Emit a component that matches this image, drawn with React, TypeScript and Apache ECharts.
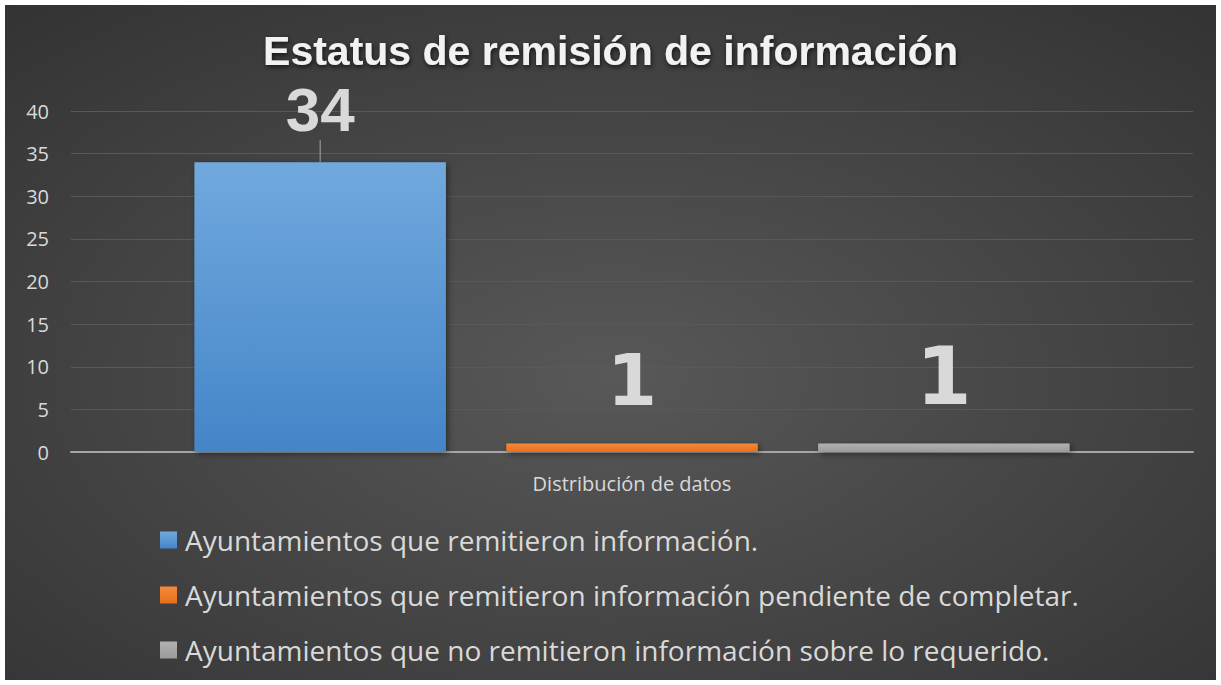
import React, { useEffect, useRef } from "react";
import * as echarts from "echarts";

const categories = ["Distribución de datos"];
const seriesNames = [
  "Ayuntamientos que remitieron información.",
  "Ayuntamientos que remitieron información pendiente de completar.",
  "Ayuntamientos que no remitieron información sobre lo requerido.",
];
const values = [34, 1, 1];
const yTicks = { min: 0, max: 40, interval: 5 };

const colorsTop = ["#71a9de", "#f48a3b", "#b1b1b1"];
const colorsBottom = ["#4485c8", "#e56f1c", "#9b9b9b"];
const labelFonts = ["Liberation Sans", "DejaVu Sans", "DejaVu Sans"];
const labelSizes = [62, 72, 80];
const labelDistances = [4, 27, 27];

export default function App() {
  const ref = useRef<HTMLDivElement>(null);
  useEffect(() => {
    document.body.style.margin = "0";
    const chart = echarts.init(ref.current!, null, { renderer: "svg" });
    const font = "Open Sans";
    const series = seriesNames.map((name, i) => ({
      name,
      type: "bar",
      data: [values[i]],
      barGap: "24%",
      barCategoryGap: "22%",
      itemStyle: {
        color: {
          type: "linear",
          x: 0,
          y: 0,
          x2: 0,
          y2: 1,
          colorStops: [
            { offset: 0, color: colorsTop[i] },
            { offset: 1, color: colorsBottom[i] },
          ],
        },
        shadowColor: "rgba(0,0,0,0.45)",
        shadowBlur: 6,
        shadowOffsetX: 2,
        shadowOffsetY: 2,
      },
      label: {
        show: true,
        position: "top",
        distance: labelDistances[i],
        fontFamily: labelFonts[i],
        fontWeight: "bold",
        fontSize: labelSizes[i],
        lineHeight: i === 0 ? 48 : undefined,
        color: "#d9d9d9",
      },
      labelLayout: i === 0 ? { dy: -25 } : undefined,
      labelLine: i === 0 ? { show: true, lineStyle: { color: "#a6a6a6", width: 1 } } : undefined,
    }));
    chart.setOption({
      animation: false,
      backgroundColor: {
        type: "radial",
        x: 0.5,
        y: 0.55,
        r: 1.0,
        colorStops: [
          { offset: 0, color: "#585858" },
          { offset: 1, color: "#262626" },
        ],
      },
      title: {
        text: "Estatus de remisión de información",
        left: "center",
        top: 20,
        textStyle: {
          fontFamily: "Liberation Sans",
          fontWeight: "bold",
          fontSize: 41,
          color: "#f2f2f2",
          textShadowColor: "rgba(0,0,0,0.7)",
          textShadowBlur: 5,
          textShadowOffsetX: 1,
          textShadowOffsetY: 2,
        },
      },
      legend: {
        orient: "vertical",
        left: 155,
        top: 520,
        padding: 0,
        itemGap: 25,
        itemWidth: 17,
        itemHeight: 17,
        icon: "rect",
        data: seriesNames,
        textStyle: {
          fontFamily: font,
          fontSize: 28,
          lineHeight: 30,
          color: "#d9d9d9",
          padding: [0, 0, 0, 3],
        },
      },
      grid: { left: 66, right: 23, top: 106, bottom: 228, containLabel: false },
      xAxis: {
        type: "category",
        data: categories,
        axisLine: { lineStyle: { color: "#a6a6a6", width: 2 } },
        axisTick: { show: false },
        axisLabel: { fontFamily: font, fontSize: 20, color: "#d9d9d9", margin: 21 },
      },
      yAxis: {
        type: "value",
        min: yTicks.min,
        max: yTicks.max,
        interval: yTicks.interval,
        axisLine: { show: false },
        axisTick: { show: false },
        splitLine: { lineStyle: { color: "#595959", width: 1 } },
        axisLabel: { fontFamily: font, fontSize: 20, color: "#d9d9d9", margin: 22 },
      },
      series,
    });
    return () => chart.dispose();
  }, []);
  return (
    <div style={{ width: 1221, height: 685, background: "#ffffff", position: "relative" }}>
      <div ref={ref} style={{ position: "absolute", left: 5, top: 5, width: 1211, height: 675 }} />
    </div>
  );
}
